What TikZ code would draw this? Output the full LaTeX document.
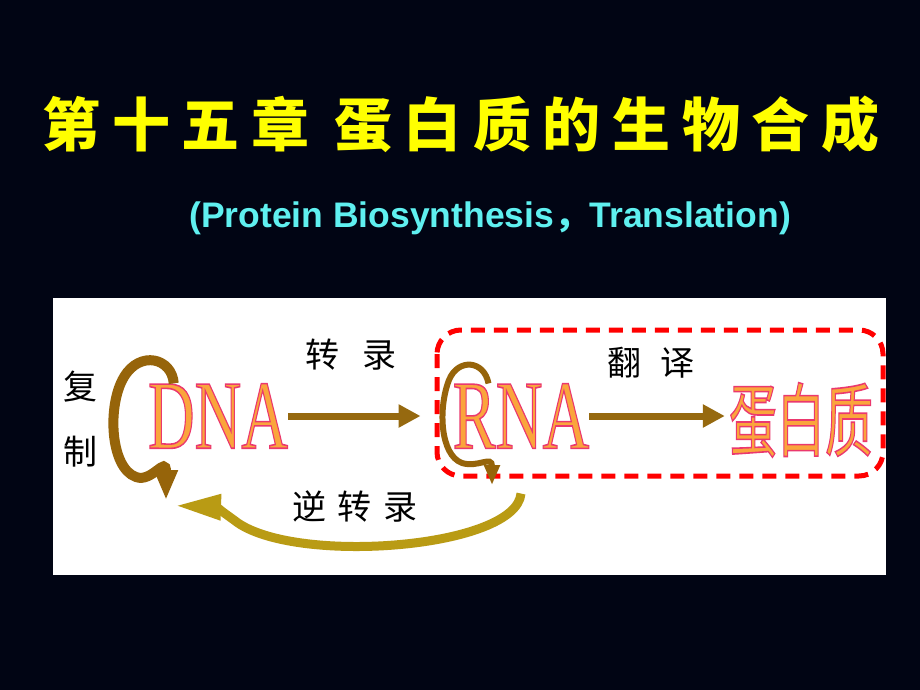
\documentclass[tikz,border=0pt]{standalone}
\usepackage{fontspec}
\usepackage{graphicx}
\setmainfont{Liberation Serif}
\newfontfamily\cjk{Noto Sans CJK SC}
\newfontfamily\cjktitle[LetterSpace=20]{Noto Sans CJK SC}
\newfontfamily\subfont{Liberation Sans}
\usetikzlibrary{arrows.meta,calc}
\definecolor{bgnavy}{RGB}{1,5,20}
\definecolor{headyellow}{RGB}{255,255,0}
\definecolor{subcyan}{RGB}{95,240,240}
\definecolor{loopbrown}{RGB}{150,100,10}
\definecolor{fwdbrown}{RGB}{150,105,15}
\definecolor{revolive}{RGB}{185,155,20}
\definecolor{wordfill}{RGB}{250,165,60}
\definecolor{wordedge}{RGB}{235,55,110}
\definecolor{boxred}{RGB}{255,0,0}
% fill the glyphs and stroke their outline (pdf text render mode 2)
\newcommand{\edged}[1]{\textcolor{wordfill}{%
	\special{pdf:code q 2 Tr 1.6 w 0.92 0.22 0.43 RG}#1\special{pdf:code Q}}}
\tikzset{
	headtext/.style={text=headyellow, inner sep=0, font=\cjktitle\bfseries\fontsize{58}{62}\selectfont},
	subtext/.style={text=subcyan, inner sep=0, font=\subfont\bfseries\fontsize{35.5}{40}\selectfont},
	lab/.style={inner sep=0, font=\cjk\fontsize{34}{36}\selectfont},
	word/.style={inner sep=0, font=\fontsize{98}{100}\selectfont},
	cjkword/.style={inner sep=0, font=\cjk\fontsize{80}{84}\selectfont},
	fwd/.style={draw=fwdbrown, line width=7pt, -{Triangle[length=22pt,width=22pt]}},
	loopdna/.style={draw=loopbrown, line width=10pt, -{Triangle[length=30pt,width=22pt]}},
	looprna/.style={draw=loopbrown, line width=6pt, -{Triangle[length=20pt,width=15pt]}},
	rev/.style={draw=revolive, line width=9pt, -{Triangle[length=46pt,width=24pt]}},
	dashbox/.style={draw=boxred, line width=5pt, dash pattern=on 14pt off 9pt, rounded corners=24pt}
}
\begin{document}
\begin{tikzpicture}[x=1pt,y=-1pt]
	\useasboundingbox (0,0) rectangle (920,690);
	\fill[bgnavy] (0,0) rectangle (920,690);
	\fill[white] (53,298) rectangle (886,575);
	
	\node[headtext] (head) at (461,124) {第十五章 蛋白质的生物合成};
	\node[subtext] (sub) at (490,218) {(Protein Biosynthesis{\cjk ，}Translation)};
	
	\node[word] (dna) at (218,416) {\scalebox{0.66}[1]{\edged{DNA}}};
	\node[word] (rna) at (521,416) {\scalebox{0.66}[1]{\edged{RNA}}};
	\node[cjkword] (prot) at (801,420) {\scalebox{0.6}[1]{\edged{蛋白质}}};
	
	\node[lab] (fz1) at (80,387) {复};
	\node[lab] (fz2) at (80,452) {制};
	\node[lab] (zl) at (351,355) {转\hspace{23pt}录};
	\node[lab] (fy) at (651,363) {翻\hspace{19pt}译};
	\node[lab] (nzl) at (355,507) {逆\hspace{12pt}转\hspace{12pt}录};
	
	\draw[dashbox] (437,330) rectangle (883,476);
	
	\draw[fwd, shorten >=32pt] (dna.east) -- (rna.west);
	\draw[fwd, shorten >=4pt] (rna.east) -- (rna.east -| prot.west);
	
	\draw[loopdna] ([xshift=26pt]dna.north west) .. controls (172,358) and (140,350) .. (124,377)
		.. controls (107,405) and (110,468) .. (136,477) .. controls (152,483) and (166,455) .. (166,500);
	\draw[looprna] ([xshift=36pt]rna.north west) .. controls (484,360) and (458,358) .. (449,380)
		.. controls (438,408) and (440,455) .. (462,463) .. controls (478,468) and (492,455) .. (492,485);
	%\path (rna.south) edge [bend left] (dna.south);
	\draw[rev] ([yshift=-45pt]rna.south) .. controls (516,548) and (300,565) .. (238,523)
		.. controls (226,514) and (215,507) .. ([shift={(-43pt,-57pt)}]dna.south);
\end{tikzpicture}
\end{document}
